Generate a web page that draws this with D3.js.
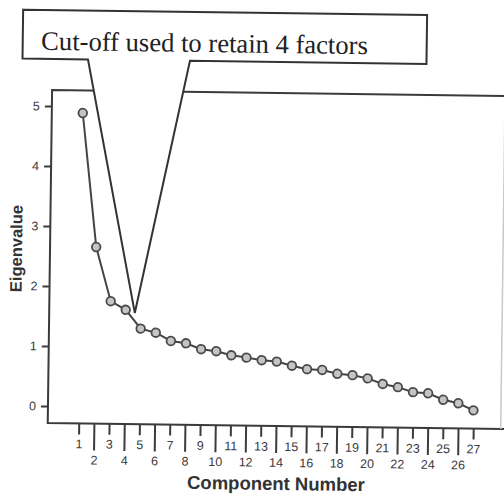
<!DOCTYPE html>
<html>
<head>
<meta charset="utf-8">
<script src="https://cdn.jsdelivr.net/npm/d3@7"></script>
<style>
  body { margin: 0; background: #fff; }
  svg { display: block; }
  .axis path { display: none; }
  .axis line { stroke: #3c3c3c; stroke-width: 2; }
  .axis text { fill: #3a3a3a; font-family: "Liberation Sans", Arial, sans-serif; font-size: 12.5px; }
</style>
</head>
<body>
<svg width="504" height="496"></svg>
<script>
// scree plot values
var components = d3.range(1, 28)
var eigenvalues = [4.89, 2.66, 1.76, 1.62, 1.31, 1.245, 1.11, 1.075, 0.98, 0.95,
	0.885, 0.85, 0.81, 0.79, 0.725, 0.67, 0.66, 0.60, 0.58, 0.53,
	0.44, 0.39, 0.31, 0.295, 0.19, 0.135, 0.02]
var yTicks = [0, 1, 2, 3, 4, 5]
var calloutText = "Cut-off used to retain 4 factors"
var cutoffTip = [4.6, 1.57]   // where the pointer of the callout ends

var svg = d3.select("svg")

// the scanned page is a bit tilted
var root = svg.append("g").attr("transform", "rotate(0.75 50 250)")

var x = d3.scaleLinear().domain([1, 27]).range([81, 475.5])
var y = d3.scaleLinear().domain([0, 5]).range([406, 106])

var frameLeft = 50, frameTop = 90, frameBottom = 423, frameRight = 503

root.append("path")
	.attr("d", "M530," + frameTop + "H" + frameLeft + "V" + frameBottom + "H530")
	.attr("fill", "none")
	.attr("stroke", "#3a3a3a")
	.attr("stroke-width", 2)

// right edge is barely visible in the scan
root.append("line")
	.attr("x1", frameRight).attr("x2", frameRight)
	.attr("y1", frameTop).attr("y2", frameBottom)
	.attr("stroke", "#c8c8c8")
	.attr("stroke-width", 1.5)

root.append("g")
	.attr("class", "axis")
	.attr("transform", "translate(" + frameLeft + ",0)")
	.call(d3.axisLeft(y).tickValues(yTicks).tickSize(7).tickPadding(5).tickFormat(d3.format("d")))

var odd = components.filter(function(d) { return d % 2 })
var even = components.filter(function(d) { return !(d % 2) })

root.append("g")
	.attr("class", "axis")
	.attr("transform", "translate(0," + frameBottom + ")")
	.call(d3.axisBottom(x).tickValues(odd).tickSize(11).tickFormat(d3.format("d")))
	.selectAll("text").attr("y", 16).attr("dy", "0.71em")

root.append("g")
	.attr("class", "axis")
	.attr("transform", "translate(0," + frameBottom + ")")
	.call(d3.axisBottom(x).tickValues(even).tickSize(27).tickFormat(d3.format("d")))
	.selectAll("text").attr("y", 32).attr("dy", "0.71em")

root.append("text")
	.attr("x", 279)
	.attr("y", 487)
	.attr("text-anchor", "middle")
	.attr("font-family", "'Liberation Sans', Arial, sans-serif")
	.attr("font-weight", "bold")
	.attr("font-size", "18.5px")
	.attr("fill", "#333")
	.text("Component Number")

root.append("text")
	.attr("transform", "translate(22,249) rotate(-90)")
	.attr("text-anchor", "middle")
	.attr("font-family", "'Liberation Sans', Arial, sans-serif")
	.attr("font-weight", "bold")
	.attr("font-size", "16.5px")
	.attr("fill", "#333")
	.text("Eigenvalue")

var line = d3.line()
	.x(function(d, i) { return x(components[i]) })
	.y(function(d) { return y(d) })

root.append("path")
	.datum(eigenvalues)
	.attr("d", line)
	.attr("fill", "none")
	.attr("stroke", "#444")
	.attr("stroke-width", 2)

root.append("g")
	.selectAll("circle")
	.data(eigenvalues)
	.join("circle")
	.attr("cx", function(d, i) { return x(components[i]) })
	.attr("cy", function(d) { return y(d) })
	.attr("r", 4.3)
	.attr("fill", "#c4c4c4")
	.attr("stroke", "#4a4a4a")
	.attr("stroke-width", 1.8)

// callout box with its pointer, white inside so it covers the frame
var bx0 = 20, bx1 = 424, by0 = 10, by1 = 59
var tipX = x(cutoffTip[0]), tipY = y(cutoffTip[1])
var callout = d3.path()
callout.moveTo(bx0, by0)
callout.lineTo(bx1, by0)
callout.lineTo(bx1, by1)
callout.lineTo(187.5, by1)
callout.lineTo(tipX, tipY)
callout.lineTo(85.5, by1)
callout.lineTo(bx0, by1)
callout.closePath()

root.append("path")
	.attr("d", callout.toString())
	.attr("fill", "#fff")
	.attr("stroke", "#333")
	.attr("stroke-width", 2)
	.attr("stroke-linejoin", "miter")

root.append("text")
	.attr("x", 38.5)
	.attr("y", 50)
	.attr("font-family", "'Liberation Serif', 'Times New Roman', serif")
	.attr("font-size", "26.6px")
	.attr("fill", "#222")
	.text(calloutText)
</script>
</body>
</html>
